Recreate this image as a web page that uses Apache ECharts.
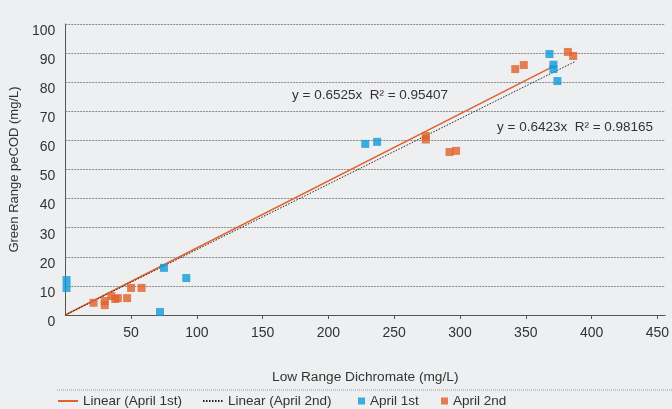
<!DOCTYPE html>
<html>
<head>
<meta charset="utf-8">
<script src="https://cdn.jsdelivr.net/npm/echarts@6/dist/echarts.min.js"></script>
<style>
html,body{margin:0;padding:0;background:#eeeff1;}
#c{width:672px;height:409px;}
</style>
</head>
<body>
<div id="c"></div>
<script>
// Data
const april1st = [
  [1, 12], [1, 9.3], [72, 1], [75, 16.2], [92, 12.7],
  [228, 58.8], [237, 59.5], [368, 89.7], [371, 86], [371, 84.5], [374, 80.4]
];
const april2nd = [
  [21.5, 4.2], [30, 4.8], [30, 3.4], [35, 6.5], [38, 5.5], [40, 5.8], [47, 5.8],
  [50, 9.3], [58, 9.3], [274, 61.5], [274, 60.3], [292, 56], [297, 56.4],
  [342, 84.5], [348.5, 85.9], [382, 90.4], [386, 89]
];
const trendApril1st = [[0, 0], [369, 85]];
const trendApril2nd = [[0, 0], [387, 87]];
const eq1 = 'y = 0.6525x  R² = 0.95407';
const eq2 = 'y = 0.6423x  R² = 0.98165';
const seriesNames = ['Linear (April 1st)', 'Linear (April 2nd)', 'April 1st', 'April 2nd'];

const FONT = "'Liberation Sans', Arial, sans-serif";
const TXT = '#333';
const BLUE = '#0e9bd6';
const ORANGE = '#e0622c';

const chart = echarts.init(document.getElementById('c'));
const legendBase = {
  top: 394, itemWidth: 20, itemHeight: 14, itemGap: 0, padding: 0,
  textStyle: { fontFamily: FONT, fontSize: 13.5, color: TXT },
  selectedMode: false
};
chart.setOption({
  backgroundColor: '#eeeff1',
  animation: false,
  grid: { left: 61, right: 0, top: 24, bottom: 94 },
  xAxis: {
    type: 'value', min: 0, max: 456, interval: 50,
    name: 'Low Range Dichromate (mg/L)', nameLocation: 'middle', nameGap: 55,
    nameTextStyle: { fontFamily: FONT, fontSize: 13.7, color: TXT },
    axisLine: { show: true, lineStyle: { color: '#555', width: 1 } },
    axisTick: { show: true, length: 4, lineStyle: { color: '#555' } },
    axisLabel: { fontFamily: FONT, fontSize: 14, color: TXT, margin: 11, showMinLabel: false, showMaxLabel: false },
    splitLine: { show: false }
  },
  yAxis: {
    type: 'value', min: 0, max: 100, interval: 10,
    name: 'Green Range peCOD (mg/L)', nameLocation: 'middle', nameGap: 38,
    nameTextStyle: { fontFamily: FONT, fontSize: 13, color: TXT },
    axisLine: { show: true, lineStyle: { color: '#555', width: 1 } },
    axisTick: { show: false },
    axisLabel: { fontFamily: FONT, fontSize: 14, color: TXT, margin: 10, verticalAlign: 'top' },
    splitLine: { show: true, lineStyle: { color: '#8a8a8a', type: [2, 1], width: 1 } }
  },
  legend: [
    Object.assign({}, legendBase, { left: 57, itemStyle: { opacity: 0 }, data: [seriesNames[0]] }),
    Object.assign({}, legendBase, { left: 202, itemStyle: { opacity: 0 }, data: [seriesNames[1]] }),
    Object.assign({}, legendBase, { left: 358, itemWidth: 7, itemHeight: 7, data: [{ name: seriesNames[2], icon: 'rect' }] }),
    Object.assign({}, legendBase, { left: 441, itemWidth: 7, itemHeight: 7, data: [{ name: seriesNames[3], icon: 'rect' }] })
  ],
  graphic: [
    { type: 'line', shape: { x1: 57, y1: 390, x2: 672, y2: 390 }, style: { stroke: '#999', lineWidth: 1, lineDash: [1, 1] } },
    { type: 'text', left: 292, top: 88, style: { text: eq1, font: '13.5px ' + FONT, fill: TXT } },
    { type: 'text', left: 497, top: 120, style: { text: eq2, font: '13.5px ' + FONT, fill: TXT } }
  ],
  series: [
    { name: seriesNames[0], type: 'line', data: trendApril1st, symbol: 'none', lineStyle: { color: ORANGE, width: 1.5 }, itemStyle: { color: ORANGE }, z: 2 },
    { name: seriesNames[1], type: 'line', data: trendApril2nd, symbol: 'none', lineStyle: { color: '#222', width: 1, type: [1.5, 1.5] }, itemStyle: { color: '#222' }, z: 2 },
    { name: seriesNames[2], type: 'scatter', data: april1st, symbol: 'rect', symbolSize: 8, itemStyle: { color: BLUE }, z: 3 },
    { name: seriesNames[3], type: 'scatter', data: april2nd, symbol: 'rect', symbolSize: 8, itemStyle: { color: ORANGE }, z: 3 }
  ]
});
</script>
</body>
</html>
